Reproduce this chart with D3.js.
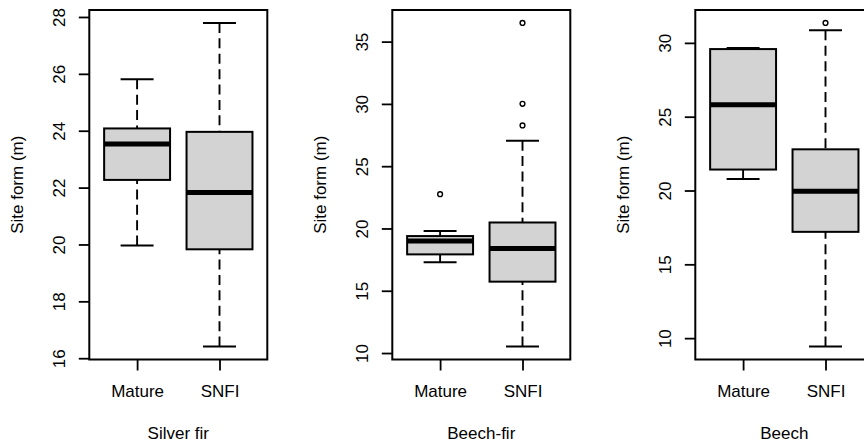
<!DOCTYPE html>
<html>
<head>
<meta charset="utf-8">
<script src="https://cdn.jsdelivr.net/npm/d3@7"></script>
<style>
  html, body { margin: 0; padding: 0; background: #fff; }
  svg { display: block; font-family: "Liberation Sans", Arial, sans-serif; }
</style>
</head>
<body>
<svg id="chart" width="864" height="442"></svg>
<script>
// Site form by stand source, one boxplot panel per species.
const species = ["Silver fir", "Beech-fir", "Beech"];
const groups = ["Mature", "SNFI"];
const yLabel = "Site form (m)";

// Five-number summaries: [lower whisker, Q1, median, Q3, upper whisker]
const silverFirMature = [19.96, 22.27, 23.53, 24.08, 25.81];
const silverFirSNFI   = [16.41, 19.83, 21.83, 23.96, 27.79];
const beechFirMature  = [17.28, 17.92, 18.99, 19.39, 19.79];
const beechFirSNFI    = [10.52, 15.73, 18.40, 20.48, 27.05];
const beechMature     = [20.78, 21.42, 25.81, 29.58, 29.65];
const beechSNFI       = [9.43, 17.20, 19.95, 22.79, 30.85];

// Points beyond the whiskers
const silverFirMatureOut = [];
const silverFirSNFIOut   = [];
const beechFirMatureOut  = [22.75];
const beechFirSNFIOut    = [28.27, 30.01, 36.5];
const beechMatureOut     = [];
const beechSNFIOut       = [31.35];

// Y tick labels per panel
const silverFirTicks = [16, 18, 20, 22, 24, 26, 28];
const beechFirTicks  = [10, 15, 20, 25, 30, 35];
const beechTicks     = [10, 15, 20, 25, 30];

const panels = [
  { title: species[0], stats: [silverFirMature, silverFirSNFI], out: [silverFirMatureOut, silverFirSNFIOut], ticks: silverFirTicks },
  { title: species[1], stats: [beechFirMature, beechFirSNFI],   out: [beechFirMatureOut, beechFirSNFIOut],   ticks: beechFirTicks },
  { title: species[2], stats: [beechMature, beechSNFI],         out: [beechMatureOut, beechSNFIOut],         ticks: beechTicks }
];

// Layout
const svg = d3.select("#chart");
const panelStep = 303;
const frameLeft0 = 89.3;
const frameW = 178;
const frameTop = 10;
const frameBottom = 359.5;
const fontSize = 17;
const boxFill = "#d3d3d3";

svg.append("rect").attr("width", 864).attr("height", 442).attr("fill", "#fff");

panels.forEach((p, i) => {
  const left = frameLeft0 + i * panelStep;
  const g = svg.append("g").attr("transform", `translate(${left},0)`);

  // Value range padded by 4% on both sides
  const all = p.stats.flat().concat(p.out.flat());
  const lo = d3.min(all), hi = d3.max(all);
  const pad = (hi - lo) * 0.04;
  const y = d3.scaleLinear().domain([lo - pad, hi + pad]).range([frameBottom, frameTop]);

  // Group positions 1..n, padded the same way
  const n = groups.length;
  const xPad = n * 0.04;
  const x = d3.scaleLinear().domain([0.5 - xPad, n + 0.5 + xPad]).range([0, frameW]);
  const boxHalf = 0.4, capHalf = 0.2;

  // Boxes
  p.stats.forEach((s, k) => {
    const cx = x(k + 1);
    const [wLo, q1, med, q3, wHi] = s;
    const bg = g.append("g");

    // Whiskers are drawn from the whisker end toward the box
    [[wLo, q1], [wHi, q3]].forEach(([a, b]) => {
      bg.append("line")
        .attr("x1", cx).attr("x2", cx)
        .attr("y1", y(a)).attr("y2", y(b))
        .attr("stroke", "#000").attr("stroke-width", 1.9)
        .attr("stroke-dasharray", "10,5.4");
      bg.append("line")
        .attr("x1", x(k + 1 - capHalf)).attr("x2", x(k + 1 + capHalf))
        .attr("y1", y(a)).attr("y2", y(a))
        .attr("stroke", "#000").attr("stroke-width", 2);
    });

    bg.append("rect")
      .attr("x", x(k + 1 - boxHalf))
      .attr("y", y(q3))
      .attr("width", x(k + 1 + boxHalf) - x(k + 1 - boxHalf))
      .attr("height", y(q1) - y(q3))
      .attr("fill", boxFill)
      .attr("stroke", "#000").attr("stroke-width", 2);

    bg.append("line")
      .attr("x1", x(k + 1 - boxHalf)).attr("x2", x(k + 1 + boxHalf))
      .attr("y1", y(med)).attr("y2", y(med))
      .attr("stroke", "#000").attr("stroke-width", 5);

    bg.selectAll("circle.out").data(p.out[k]).join("circle")
      .attr("class", "out")
      .attr("cx", cx).attr("cy", d => y(d))
      .attr("r", 2.4)
      .attr("fill", "none").attr("stroke", "#000").attr("stroke-width", 1.4);
  });

  // Frame
  g.append("rect")
    .attr("x", 0).attr("y", frameTop)
    .attr("width", frameW).attr("height", frameBottom - frameTop)
    .attr("fill", "none").attr("stroke", "#000").attr("stroke-width", 2);

  // Y axis
  const yAxis = g.append("g")
    .call(d3.axisLeft(y).tickValues(p.ticks).tickSize(10.5).tickSizeOuter(0).tickFormat(d3.format("d")));
  yAxis.select(".domain").remove();
  yAxis.selectAll(".tick line").attr("stroke", "#000").attr("stroke-width", 1.8);
  yAxis.selectAll(".tick text")
    .attr("x", null).attr("dy", null)
    .attr("text-anchor", "middle")
    .attr("transform", "translate(-24.5,0) rotate(-90)")
    .attr("fill", "#000")
    .style("font-size", fontSize + "px")
    .style("font-family", "'Liberation Sans', Arial, sans-serif");

  // X axis
  const xAxis = g.append("g")
    .attr("transform", `translate(0,${frameBottom})`)
    .call(d3.axisBottom(x).tickValues(groups.map((d, k) => k + 1)).tickSize(11).tickSizeOuter(0).tickFormat(v => groups[v - 1]));
  xAxis.select(".domain").remove();
  xAxis.selectAll(".tick line").attr("stroke", "#000").attr("stroke-width", 1.8);
  xAxis.selectAll(".tick text")
    .attr("y", 37.5).attr("dy", null)
    .attr("fill", "#000")
    .style("font-size", fontSize + "px")
    .style("font-family", "'Liberation Sans', Arial, sans-serif");

  // Titles
  g.append("text")
    .attr("x", frameW / 2).attr("y", 439)
    .attr("text-anchor", "middle")
    .style("font-size", fontSize + "px")
    .text(p.title);

  g.append("text")
    .attr("transform", `translate(-66,${(frameTop + frameBottom) / 2}) rotate(-90)`)
    .attr("text-anchor", "middle")
    .style("font-size", fontSize + "px")
    .text(yLabel);
});
</script>
</body>
</html>
